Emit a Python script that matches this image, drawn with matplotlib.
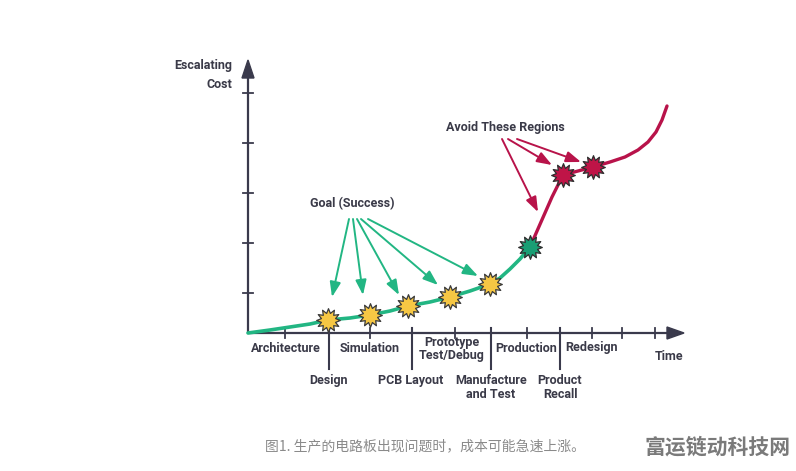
import numpy as np
import matplotlib
matplotlib.use('Agg')
import matplotlib.pyplot as plt
from matplotlib.path import Path

plt.rcParams['font.family'] = ['Roboto', 'DejaVu Sans']

# curve (pixel-like coordinates, y grows downward)
green_x = [248, 270, 290, 310, 328, 350, 370, 390, 408, 430, 450, 470, 490, 500, 510, 520, 530]
green_y = [333, 330, 327, 324, 320, 318, 315, 311, 306, 302, 297, 291, 284, 278, 269, 259, 247]
red_x = [530, 541, 552, 563, 578, 593, 610, 625, 638, 648, 656, 662, 667]
red_y = [247, 222, 197, 175, 171, 167, 162, 157, 150, 142, 132, 120, 106]

goal_x = [328, 370, 408, 450, 490]
goal_y = [320, 315, 306, 297, 284]
turn_x, turn_y = 530, 247
bad_x = [563, 593]
bad_y = [175, 167]

ytick_pos = [93, 143, 193, 243, 293]
minor_ticks = [285, 370, 455, 527, 592, 622, 655]
dividers = [329, 412, 491, 560]

top_labels = ['Architecture', 'Simulation', 'Prototype\nTest/Debug', 'Production', 'Redesign']
top_x = [286, 370, 452, 526, 592]
bottom_labels = ['Design', 'PCB Layout', 'Manufacture\nand Test', 'Product\nRecall']
bottom_x = [329, 411, 491, 560]

axis_col = '#3a3a4c'
text_col = '#3a3a48'
green = '#22b683'
red = '#b8134a'


def star_marker(n=12, inner=0.62):
    ang = np.linspace(0, 2 * np.pi, 2 * n, endpoint=False) + np.pi / 2
    r = np.where(np.arange(2 * n) % 2 == 0, 1.0, inner)
    verts = np.column_stack([r * np.cos(ang), r * np.sin(ang)])
    verts = np.vstack([verts, verts[:1]])
    codes = [Path.MOVETO] + [Path.LINETO] * (2 * n - 1) + [Path.CLOSEPOLY]
    return Path(verts, codes)


fig = plt.figure(figsize=(7.96, 4.71), dpi=100)
ax = fig.add_axes([0, 0, 1, 1])
ax.set_xlim(0, 796)
ax.set_ylim(471, 0)
ax.axis('off')

# axes with arrow heads
ax.plot([248, 248], [333, 72], color=axis_col, lw=1.6, solid_capstyle='butt')
ax.plot([248, 672], [333, 333], color=axis_col, lw=1.6, solid_capstyle='butt')
ax.fill([242, 248, 254], [78, 60, 78], color=axis_col)
ax.fill([667, 684, 667], [327, 333, 339], color=axis_col)

for y in ytick_pos:
    ax.plot([243, 253], [y, y], color=axis_col, lw=1.3)
for x in minor_ticks:
    ax.plot([x, x], [328, 338], color=axis_col, lw=1.3)
for x in dividers:
    ax.plot([x, x], [328, 369], color=axis_col, lw=1.5)

# curves
ax.plot(green_x, green_y, color=green, lw=2.6, solid_capstyle='round', zorder=3)
ax.plot(red_x, red_y, color=red, lw=2.4, solid_capstyle='round', zorder=3)

# arrows
goal_tips = [(332, 297), (363, 295), (399, 295), (438, 285), (478, 276)]
goal_starts = [(349, 219), (353, 219), (357, 219), (361, 219), (368, 219)]
for (sx, sy), (tx, ty) in zip(goal_starts, goal_tips):
    ax.annotate('', xy=(tx, ty), xytext=(sx, sy),
                arrowprops=dict(arrowstyle='-|>,head_length=0.9,head_width=0.33',
                                color=green, lw=1.4, shrinkA=0, shrinkB=0))
bad_tips = [(538, 212), (552, 165), (581, 162)]
bad_starts = [(502, 139), (508, 139), (517, 139)]
for (sx, sy), (tx, ty) in zip(bad_starts, bad_tips):
    ax.annotate('', xy=(tx, ty), xytext=(sx, sy),
                arrowprops=dict(arrowstyle='-|>,head_length=0.9,head_width=0.33',
                                color=red, lw=1.4, shrinkA=0, shrinkB=0))

# stars
mk = star_marker()
ax.plot(goal_x, goal_y, ls='none', marker=mk, ms=17, mfc='#f6c744',
        mec='#3a3a3a', mew=0.9, zorder=5)
ax.plot([turn_x], [turn_y], ls='none', marker=mk, ms=17, mfc='#1a9e74',
        mec='#2e2e2e', mew=0.9, zorder=5)
ax.plot(bad_x, bad_y, ls='none', marker=mk, ms=17, mfc='#bf1447',
        mec='#2e2e2e', mew=0.9, zorder=5)

# texts
bold = dict(color=text_col, fontweight='bold', fontsize=9)
ax.text(232, 75, 'Escalating\nCost', ha='right', va='center', linespacing=1.55, **bold)
ax.text(352, 204, 'Goal (Success)', ha='center', va='center', **bold)
ax.text(505, 128, 'Avoid These Regions', ha='center', va='center', **bold)
ax.text(669, 357, 'Time', ha='center', va='center', **bold)
for lab, x in zip(top_labels, top_x):
    ax.text(x, 349 if '\n' in lab else 348, lab, ha='center', va='center',
            linespacing=1.05, **bold)
for lab, x in zip(bottom_labels, bottom_x):
    ax.text(x, 374, lab, ha='center', va='top', linespacing=1.05, **bold)

ax.text(265, 446, '图1. 生产的电路板出现问题时，成本可能急速上涨。', ha='left', va='center',
        fontsize=10, color='#8a8a8a', family=['Noto Sans CJK SC', 'DejaVu Sans'])
ax.text(718, 447, '富运链动科技网', ha='center', va='center', fontsize=15,
        fontweight='bold', color='#7a7a7a', family=['Noto Sans CJK SC', 'DejaVu Sans'])

fig.savefig('out.png', dpi=100, facecolor='white')
